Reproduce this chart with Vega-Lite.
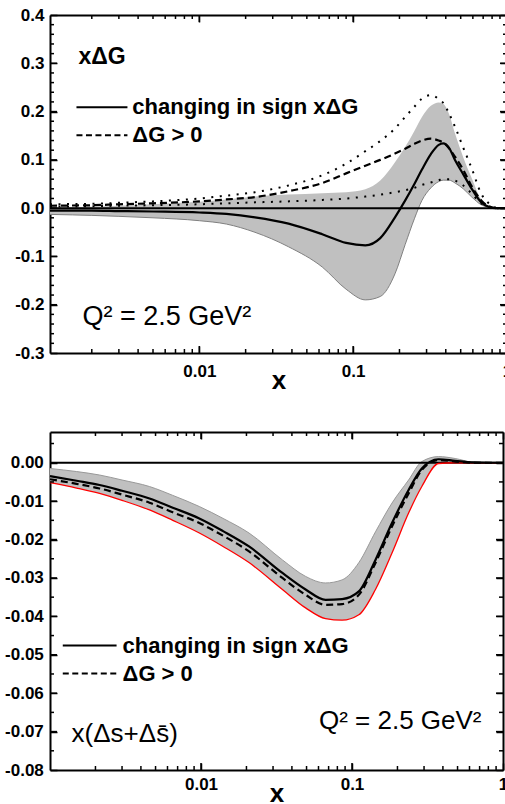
{
  "$schema": "https://vega.github.io/schema/vega-lite/v6.json",
  "padding": {"left": 4, "top": 6, "right": 0, "bottom": 0},
  "columns": 1,
  "align": "none",
  "spacing": 38,
  "background": "white",
  "datasets": {
    "top": [
      {"x": 0.00107, "lo": -0.013, "hi": 0.002, "s": -0.005, "d": 0.005, "du": 0.008, "dl": 0.003},
      {"x": 0.0015, "lo": -0.014, "hi": 0.0025, "s": -0.005, "d": 0.0055, "du": 0.0085, "dl": 0.0035},
      {"x": 0.002, "lo": -0.015, "hi": 0.003, "s": -0.005, "d": 0.006, "du": 0.009, "dl": 0.004},
      {"x": 0.003, "lo": -0.017, "hi": 0.005, "s": -0.006, "d": 0.008, "du": 0.011, "dl": 0.005},
      {"x": 0.005, "lo": -0.02, "hi": 0.008, "s": -0.007, "d": 0.01, "du": 0.014, "dl": 0.006},
      {"x": 0.01, "lo": -0.026, "hi": 0.013, "s": -0.009, "d": 0.014, "du": 0.02, "dl": 0.008},
      {"x": 0.015, "lo": -0.033, "hi": 0.018, "s": -0.012, "d": 0.018, "du": 0.026, "dl": 0.01},
      {"x": 0.023, "lo": -0.05, "hi": 0.024, "s": -0.019, "d": 0.023, "du": 0.033, "dl": 0.012},
      {"x": 0.038, "lo": -0.08, "hi": 0.028, "s": -0.032, "d": 0.035, "du": 0.047, "dl": 0.014},
      {"x": 0.063, "lo": -0.122, "hi": 0.031, "s": -0.054, "d": 0.052, "du": 0.068, "dl": 0.017},
      {"x": 0.09, "lo": -0.168, "hi": 0.033, "s": -0.072, "d": 0.072, "du": 0.092, "dl": 0.02},
      {"x": 0.12, "lo": -0.19, "hi": 0.039, "s": -0.077, "d": 0.088, "du": 0.118, "dl": 0.024},
      {"x": 0.15, "lo": -0.183, "hi": 0.057, "s": -0.062, "d": 0.1, "du": 0.139, "dl": 0.028},
      {"x": 0.187, "lo": -0.136, "hi": 0.095, "s": -0.019, "d": 0.113, "du": 0.165, "dl": 0.033},
      {"x": 0.218, "lo": -0.075, "hi": 0.127, "s": 0.016, "d": 0.123, "du": 0.189, "dl": 0.037},
      {"x": 0.25, "lo": -0.022, "hi": 0.16, "s": 0.05, "d": 0.133, "du": 0.21, "dl": 0.042},
      {"x": 0.28, "lo": 0.016, "hi": 0.189, "s": 0.08, "d": 0.14, "du": 0.227, "dl": 0.048},
      {"x": 0.32, "lo": 0.042, "hi": 0.212, "s": 0.112, "d": 0.144, "du": 0.234, "dl": 0.053},
      {"x": 0.36, "lo": 0.055, "hi": 0.219, "s": 0.131, "d": 0.14, "du": 0.226, "dl": 0.058},
      {"x": 0.385, "lo": 0.058, "hi": 0.216, "s": 0.134, "d": 0.136, "du": 0.218, "dl": 0.06},
      {"x": 0.42, "lo": 0.058, "hi": 0.195, "s": 0.125, "d": 0.124, "du": 0.196, "dl": 0.06},
      {"x": 0.46, "lo": 0.052, "hi": 0.154, "s": 0.099, "d": 0.106, "du": 0.168, "dl": 0.057},
      {"x": 0.52, "lo": 0.04, "hi": 0.105, "s": 0.07, "d": 0.079, "du": 0.125, "dl": 0.047},
      {"x": 0.59, "lo": 0.023, "hi": 0.062, "s": 0.04, "d": 0.045, "du": 0.082, "dl": 0.03},
      {"x": 0.68, "lo": 0.007, "hi": 0.018, "s": 0.012, "d": 0.016, "du": 0.03, "dl": 0.01},
      {"x": 0.76, "lo": 0.002, "hi": 0.004, "s": 0.003, "d": 0.004, "du": 0.01, "dl": 0.003},
      {"x": 0.85, "lo": 0, "hi": 0.0005, "s": 0, "d": 0, "du": 0.001, "dl": 0},
      {"x": 1, "lo": 0, "hi": 0, "s": 0, "d": 0, "du": 0, "dl": 0}
    ],
    "bot": [
      {"x": 0.001, "lo": -0.0052, "hi": -0.0015, "s": -0.0035, "d": -0.0043},
      {"x": 0.0015, "lo": -0.0066, "hi": -0.0023, "s": -0.0047, "d": -0.0055},
      {"x": 0.00213, "lo": -0.008, "hi": -0.0032, "s": -0.0058, "d": -0.0067},
      {"x": 0.003, "lo": -0.0098, "hi": -0.0045, "s": -0.0073, "d": -0.0083},
      {"x": 0.00456, "lo": -0.0123, "hi": -0.0062, "s": -0.0093, "d": -0.0104},
      {"x": 0.0065, "lo": -0.015, "hi": -0.0085, "s": -0.0117, "d": -0.0129},
      {"x": 0.00975, "lo": -0.0183, "hi": -0.0114, "s": -0.0145, "d": -0.0157},
      {"x": 0.014, "lo": -0.0218, "hi": -0.0145, "s": -0.0178, "d": -0.019},
      {"x": 0.0208, "lo": -0.026, "hi": -0.0183, "s": -0.0218, "d": -0.0231},
      {"x": 0.0346, "lo": -0.033, "hi": -0.0253, "s": -0.0287, "d": -0.03},
      {"x": 0.0493, "lo": -0.0378, "hi": -0.0296, "s": -0.033, "d": -0.0344},
      {"x": 0.0668, "lo": -0.0406, "hi": -0.0313, "s": -0.0357, "d": -0.037},
      {"x": 0.086, "lo": -0.041, "hi": -0.0305, "s": -0.0355, "d": -0.0368},
      {"x": 0.111, "lo": -0.0396, "hi": -0.026, "s": -0.0335, "d": -0.0344},
      {"x": 0.143, "lo": -0.033, "hi": -0.018, "s": -0.0253, "d": -0.0261},
      {"x": 0.184, "lo": -0.0235, "hi": -0.0105, "s": -0.0157, "d": -0.0166},
      {"x": 0.237, "lo": -0.0131, "hi": -0.0045, "s": -0.0071, "d": -0.008},
      {"x": 0.29, "lo": -0.0062, "hi": 0.0003, "s": -0.0015, "d": -0.0019},
      {"x": 0.374, "lo": -0.0002, "hi": 0.0016, "s": 0.0009, "d": 0.0007},
      {"x": 0.482, "lo": 0, "hi": 0.0011, "s": 0.0005, "d": 0.0003},
      {"x": 0.62, "lo": 0, "hi": 0.0002, "s": 0.0001, "d": 0},
      {"x": 0.84, "lo": 0, "hi": 0, "s": 0, "d": 0},
      {"x": 1, "lo": 0, "hi": 0, "s": 0, "d": 0}
    ],
    "xmaj": [{"v": 0.01}, {"v": 0.1}],
    "xmin": [{"v": 0.002}, {"v": 0.003}, {"v": 0.004}, {"v": 0.005}, {"v": 0.006}, {"v": 0.007}, {"v": 0.008}, {"v": 0.009}, {"v": 0.02}, {"v": 0.03}, {"v": 0.04}, {"v": 0.05}, {"v": 0.06}, {"v": 0.07}, {"v": 0.08}, {"v": 0.09}, {"v": 0.2}, {"v": 0.3}, {"v": 0.4}, {"v": 0.5}, {"v": 0.6}, {"v": 0.7}, {"v": 0.8}, {"v": 0.9}],
    "tymaj": [{"v": -0.2}, {"v": -0.1}, {"v": 0}, {"v": 0.1}, {"v": 0.2}, {"v": 0.3}],
    "tymin": [{"v": -0.28}, {"v": -0.26}, {"v": -0.24}, {"v": -0.22}, {"v": -0.18}, {"v": -0.16}, {"v": -0.14}, {"v": -0.12}, {"v": -0.08}, {"v": -0.06}, {"v": -0.04}, {"v": -0.02}, {"v": 0.02}, {"v": 0.04}, {"v": 0.06}, {"v": 0.08}, {"v": 0.12}, {"v": 0.14}, {"v": 0.16}, {"v": 0.18}, {"v": 0.22}, {"v": 0.24}, {"v": 0.26}, {"v": 0.28}, {"v": 0.32}, {"v": 0.34}, {"v": 0.36}, {"v": 0.38}],
    "bymaj": [{"v": -0.07}, {"v": -0.06}, {"v": -0.05}, {"v": -0.04}, {"v": -0.03}, {"v": -0.02}, {"v": -0.01}, {"v": 0}],
    "bymin": [{"v": -0.075}, {"v": -0.065}, {"v": -0.055}, {"v": -0.045}, {"v": -0.035}, {"v": -0.025}, {"v": -0.015}, {"v": -0.005}, {"v": 0.005}]
  },
  "concat": [
    {
      "width": 457,
      "height": 338,
      "data": {"name": "top"},
      "resolve": {"axis": {"x": "independent", "y": "independent"}},
      "layer": [
        {
          "mark": {"type": "area", "color": "#c0c0c0", "interpolate": "monotone"},
          "encoding": {
            "x": {"field": "x", "type": "quantitative", "scale": {"type": "log", "domain": [0.00107, 1], "nice": false},
              "axis": {"orient": "bottom", "values": [0.01, 0.1, 1], "format": "~g", "domain": true, "domainColor": "black", "domainWidth": 2, "tickColor": "black", "tickWidth": 1.5, "tickSize": -7, "labelPadding": 17, "labelFlush": false, "title": "x", "titlePadding": -12}},
            "y": {"field": "lo", "type": "quantitative", "scale": {"domain": [-0.3, 0.4], "nice": false, "zero": false},
              "axis": {"orient": "left", "values": [-0.3, -0.2, -0.1, 0, 0.1, 0.2, 0.3, 0.4], "format": ".1f", "labelExpr": "replace(datum.label, '\u2212', '-')", "domain": true, "domainColor": "black", "domainWidth": 2, "tickColor": "black", "tickWidth": 1.5, "tickSize": -7, "labelPadding": 13, "title": " ", "titleFontSize": 2, "titlePadding": 3}},
            "y2": {"field": "hi"}
          }
        },
        {
          "mark": {"type": "line", "color": "#808080", "strokeWidth": 1, "interpolate": "monotone"},
          "encoding": {
            "x": {"field": "x", "type": "quantitative", "scale": {"type": "log", "domain": [0.00107, 1], "nice": false}, "axis": null},
            "y": {"field": "lo", "type": "quantitative", "scale": {"domain": [-0.3, 0.4], "nice": false, "zero": false}, "axis": null}
          }
        },
        {
          "data": {"values": [{"z": 0}]},
          "mark": {"type": "rule", "color": "black", "strokeWidth": 2},
          "encoding": {
            "y": {"field": "z", "type": "quantitative", "scale": {"domain": [-0.3, 0.4], "nice": false, "zero": false}, "axis": null}
          }
        },
        {
          "mark": {"type": "line", "color": "black", "strokeWidth": 2, "strokeDash": [2, 6.5], "interpolate": "monotone"},
          "encoding": {
            "x": {"field": "x", "type": "quantitative", "scale": {"type": "log", "domain": [0.00107, 1], "nice": false}, "axis": null},
            "y": {"field": "du", "type": "quantitative", "scale": {"domain": [-0.3, 0.4], "nice": false, "zero": false}, "axis": null}
          }
        },
        {
          "mark": {"type": "line", "color": "black", "strokeWidth": 2, "strokeDash": [2, 6.5], "interpolate": "monotone"},
          "encoding": {
            "x": {"field": "x", "type": "quantitative", "scale": {"type": "log", "domain": [0.00107, 1], "nice": false},
              "axis": {"orient": "top", "values": [0.01, 0.1, 1], "domain": true, "domainColor": "black", "domainWidth": 2, "tickColor": "black", "tickWidth": 1.5, "tickSize": -7, "labels": false, "title": null}},
            "y": {"field": "dl", "type": "quantitative", "scale": {"domain": [-0.3, 0.4], "nice": false, "zero": false},
              "axis": {"orient": "right", "values": [-0.3, -0.2, -0.1, 0, 0.1, 0.2, 0.3, 0.4], "domain": true, "domainColor": "black", "domainWidth": 2, "tickColor": "black", "tickWidth": 1.5, "tickSize": -7, "labels": false, "title": null}}
          }
        },
        {
          "mark": {"type": "line", "color": "black", "strokeWidth": 2.2, "strokeDash": [7, 4], "interpolate": "monotone"},
          "encoding": {
            "x": {"field": "x", "type": "quantitative", "scale": {"type": "log", "domain": [0.00107, 1], "nice": false}, "axis": null},
            "y": {"field": "d", "type": "quantitative", "scale": {"domain": [-0.3, 0.4], "nice": false, "zero": false}, "axis": null}
          }
        },
        {
          "mark": {"type": "line", "color": "black", "strokeWidth": 2.2, "interpolate": "monotone"},
          "encoding": {
            "x": {"field": "x", "type": "quantitative", "scale": {"type": "log", "domain": [0.00107, 1], "nice": false}, "axis": null},
            "y": {"field": "s", "type": "quantitative", "scale": {"domain": [-0.3, 0.4], "nice": false, "zero": false}, "axis": null}
          }
        },
        {
          "data": {"name": "xmaj"},
          "mark": {"type": "rule", "color": "black", "strokeWidth": 1.5},
          "encoding": {
            "x": {"field": "v", "type": "quantitative", "scale": {"type": "log", "domain": [0.00107, 1], "nice": false}, "axis": null},
            "y": {"datum": -0.3, "type": "quantitative", "scale": {"domain": [-0.3, 0.4], "nice": false, "zero": false}, "axis": null},
            "y2": {"datum": -0.2855}
          }
        },
        {
          "data": {"name": "xmaj"},
          "mark": {"type": "rule", "color": "black", "strokeWidth": 1.5},
          "encoding": {
            "x": {"field": "v", "type": "quantitative", "scale": {"type": "log", "domain": [0.00107, 1], "nice": false}, "axis": null},
            "y": {"datum": 0.4, "type": "quantitative", "scale": {"domain": [-0.3, 0.4], "nice": false, "zero": false}, "axis": null},
            "y2": {"datum": 0.3855}
          }
        },
        {
          "data": {"name": "xmin"},
          "mark": {"type": "rule", "color": "black", "strokeWidth": 1.5},
          "encoding": {
            "x": {"field": "v", "type": "quantitative", "scale": {"type": "log", "domain": [0.00107, 1], "nice": false}, "axis": null},
            "y": {"datum": -0.3, "type": "quantitative", "scale": {"domain": [-0.3, 0.4], "nice": false, "zero": false}, "axis": null},
            "y2": {"datum": -0.2917}
          }
        },
        {
          "data": {"name": "xmin"},
          "mark": {"type": "rule", "color": "black", "strokeWidth": 1.5},
          "encoding": {
            "x": {"field": "v", "type": "quantitative", "scale": {"type": "log", "domain": [0.00107, 1], "nice": false}, "axis": null},
            "y": {"datum": 0.4, "type": "quantitative", "scale": {"domain": [-0.3, 0.4], "nice": false, "zero": false}, "axis": null},
            "y2": {"datum": 0.3917}
          }
        },
        {
          "data": {"name": "tymaj"},
          "mark": {"type": "rule", "color": "black", "strokeWidth": 1.5},
          "encoding": {
            "y": {"field": "v", "type": "quantitative", "scale": {"domain": [-0.3, 0.4], "nice": false, "zero": false}, "axis": null},
            "x": {"datum": 0.00107, "type": "quantitative", "scale": {"type": "log", "domain": [0.00107, 1], "nice": false}, "axis": null},
            "x2": {"datum": 0.001188}
          }
        },
        {
          "data": {"name": "tymaj"},
          "mark": {"type": "rule", "color": "black", "strokeWidth": 1.5},
          "encoding": {
            "y": {"field": "v", "type": "quantitative", "scale": {"domain": [-0.3, 0.4], "nice": false, "zero": false}, "axis": null},
            "x": {"datum": 1, "type": "quantitative", "scale": {"type": "log", "domain": [0.00107, 1], "nice": false}, "axis": null},
            "x2": {"datum": 0.9004}
          }
        },
        {
          "data": {"name": "tymin"},
          "mark": {"type": "rule", "color": "black", "strokeWidth": 1.5},
          "encoding": {
            "y": {"field": "v", "type": "quantitative", "scale": {"domain": [-0.3, 0.4], "nice": false, "zero": false}, "axis": null},
            "x": {"datum": 0.00107, "type": "quantitative", "scale": {"type": "log", "domain": [0.00107, 1], "nice": false}, "axis": null},
            "x2": {"datum": 0.001136}
          }
        },
        {
          "data": {"name": "tymin"},
          "mark": {"type": "rule", "color": "black", "strokeWidth": 1.5},
          "encoding": {
            "y": {"field": "v", "type": "quantitative", "scale": {"domain": [-0.3, 0.4], "nice": false, "zero": false}, "axis": null},
            "x": {"datum": 1, "type": "quantitative", "scale": {"type": "log", "domain": [0.00107, 1], "nice": false}, "axis": null},
            "x2": {"datum": 0.9419}
          }
        },
        {
          "data": {"values": [{"x": 0.00159, "x2": 0.00341, "y": 0.209}]},
          "mark": {"type": "rule", "color": "black", "strokeWidth": 2},
          "encoding": {
            "x": {"field": "x", "type": "quantitative", "scale": {"type": "log", "domain": [0.00107, 1], "nice": false}, "axis": null},
            "x2": {"field": "x2"},
            "y": {"field": "y", "type": "quantitative", "scale": {"domain": [-0.3, 0.4], "nice": false, "zero": false}, "axis": null}
          }
        },
        {
          "data": {"values": [{"x": 0.00159, "x2": 0.00341, "y": 0.151}]},
          "mark": {"type": "rule", "color": "black", "strokeWidth": 2, "strokeDash": [6, 3.5]},
          "encoding": {
            "x": {"field": "x", "type": "quantitative", "scale": {"type": "log", "domain": [0.00107, 1], "nice": false}, "axis": null},
            "x2": {"field": "x2"},
            "y": {"field": "y", "type": "quantitative", "scale": {"domain": [-0.3, 0.4], "nice": false, "zero": false}, "axis": null}
          }
        },
        {
          "data": {"values": [{"x": 0.00367, "y": 0.209, "label": "changing in sign xΔG"}, {"x": 0.00367, "y": 0.151, "label": "ΔG > 0"}]},
          "mark": {"type": "text", "align": "left", "baseline": "middle", "font": "Liberation Sans", "fontWeight": "bold", "fontSize": 22, "color": "black"},
          "encoding": {
            "x": {"field": "x", "type": "quantitative", "scale": {"type": "log", "domain": [0.00107, 1], "nice": false}, "axis": null},
            "y": {"field": "y", "type": "quantitative", "scale": {"domain": [-0.3, 0.4], "nice": false, "zero": false}, "axis": null},
            "text": {"field": "label"}
          }
        },
        {
          "data": {"values": [{"x": 0.00164, "y": 0.313, "label": "xΔG"}]},
          "mark": {"type": "text", "align": "left", "baseline": "middle", "font": "Liberation Sans", "fontWeight": "bold", "fontSize": 23, "color": "black"},
          "encoding": {
            "x": {"field": "x", "type": "quantitative", "scale": {"type": "log", "domain": [0.00107, 1], "nice": false}, "axis": null},
            "y": {"field": "y", "type": "quantitative", "scale": {"domain": [-0.3, 0.4], "nice": false, "zero": false}, "axis": null},
            "text": {"field": "label"}
          }
        },
        {
          "data": {"values": [{"x": 0.00174, "y": -0.225, "label": "Q² = 2.5 GeV²"}]},
          "mark": {"type": "text", "align": "left", "baseline": "middle", "font": "Liberation Sans", "fontWeight": "normal", "fontSize": 27, "color": "black"},
          "encoding": {
            "x": {"field": "x", "type": "quantitative", "scale": {"type": "log", "domain": [0.00107, 1], "nice": false}, "axis": null},
            "y": {"field": "y", "type": "quantitative", "scale": {"domain": [-0.3, 0.4], "nice": false, "zero": false}, "axis": null},
            "text": {"field": "label"}
          }
        }
      ]
    },
    {
      "width": 453,
      "height": 338,
      "data": {"name": "bot"},
      "resolve": {"axis": {"x": "independent", "y": "independent"}},
      "layer": [
        {
          "mark": {"type": "area", "color": "#c0c0c0", "interpolate": "monotone"},
          "encoding": {
            "x": {"field": "x", "type": "quantitative", "scale": {"type": "log", "domain": [0.001, 1], "nice": false},
              "axis": {"orient": "bottom", "values": [0.01, 0.1, 1], "format": "~g", "domain": true, "domainColor": "black", "domainWidth": 2, "tickColor": "black", "tickWidth": 1.5, "tickSize": -7, "labelPadding": 13.6, "labelFlush": false, "title": "x", "titlePadding": -12}},
            "y": {"field": "lo", "type": "quantitative", "scale": {"domain": [-0.08, 0.008], "nice": false, "zero": false},
              "axis": {"orient": "left", "values": [-0.08, -0.07, -0.06, -0.05, -0.04, -0.03, -0.02, -0.01, 0], "format": ".2f", "labelExpr": "replace(datum.label, '\u2212', '-')", "domain": true, "domainColor": "black", "domainWidth": 2, "tickColor": "black", "tickWidth": 1.5, "tickSize": -7, "labelPadding": 13.7, "title": null}},
            "y2": {"field": "hi"}
          }
        },
        {
          "mark": {"type": "line", "color": "#999999", "strokeWidth": 1, "interpolate": "monotone"},
          "encoding": {
            "x": {"field": "x", "type": "quantitative", "scale": {"type": "log", "domain": [0.001, 1], "nice": false}, "axis": null},
            "y": {"field": "hi", "type": "quantitative", "scale": {"domain": [-0.08, 0.008], "nice": false, "zero": false}, "axis": null}
          }
        },
        {
          "data": {"values": [{"z": 0}]},
          "mark": {"type": "rule", "color": "black", "strokeWidth": 2},
          "encoding": {
            "y": {"field": "z", "type": "quantitative", "scale": {"domain": [-0.08, 0.008], "nice": false, "zero": false}, "axis": null}
          }
        },
        {
          "mark": {"type": "line", "color": "#ff0000", "strokeWidth": 1.3, "interpolate": "monotone"},
          "encoding": {
            "x": {"field": "x", "type": "quantitative", "scale": {"type": "log", "domain": [0.001, 1], "nice": false}, "axis": null},
            "y": {"field": "lo", "type": "quantitative", "scale": {"domain": [-0.08, 0.008], "nice": false, "zero": false}, "axis": null}
          }
        },
        {
          "mark": {"type": "line", "color": "black", "strokeWidth": 2.2, "strokeDash": [7, 4], "interpolate": "monotone"},
          "encoding": {
            "x": {"field": "x", "type": "quantitative", "scale": {"type": "log", "domain": [0.001, 1], "nice": false},
              "axis": {"orient": "top", "values": [0.01, 0.1, 1], "domain": true, "domainColor": "black", "domainWidth": 2, "tickColor": "black", "tickWidth": 1.5, "tickSize": -7, "labels": false, "title": null}},
            "y": {"field": "d", "type": "quantitative", "scale": {"domain": [-0.08, 0.008], "nice": false, "zero": false},
              "axis": {"orient": "right", "values": [-0.08, -0.07, -0.06, -0.05, -0.04, -0.03, -0.02, -0.01, 0], "domain": true, "domainColor": "black", "domainWidth": 2, "tickColor": "black", "tickWidth": 1.5, "tickSize": -7, "labels": false, "title": null}}
          }
        },
        {
          "mark": {"type": "line", "color": "black", "strokeWidth": 2.2, "interpolate": "monotone"},
          "encoding": {
            "x": {"field": "x", "type": "quantitative", "scale": {"type": "log", "domain": [0.001, 1], "nice": false}, "axis": null},
            "y": {"field": "s", "type": "quantitative", "scale": {"domain": [-0.08, 0.008], "nice": false, "zero": false}, "axis": null}
          }
        },
        {
          "data": {"name": "xmaj"},
          "mark": {"type": "rule", "color": "black", "strokeWidth": 1.5},
          "encoding": {
            "x": {"field": "v", "type": "quantitative", "scale": {"type": "log", "domain": [0.001, 1], "nice": false}, "axis": null},
            "y": {"datum": -0.08, "type": "quantitative", "scale": {"domain": [-0.08, 0.008], "nice": false, "zero": false}, "axis": null},
            "y2": {"datum": -0.07818}
          }
        },
        {
          "data": {"name": "xmaj"},
          "mark": {"type": "rule", "color": "black", "strokeWidth": 1.5},
          "encoding": {
            "x": {"field": "v", "type": "quantitative", "scale": {"type": "log", "domain": [0.001, 1], "nice": false}, "axis": null},
            "y": {"datum": 0.008, "type": "quantitative", "scale": {"domain": [-0.08, 0.008], "nice": false, "zero": false}, "axis": null},
            "y2": {"datum": 0.00618}
          }
        },
        {
          "data": {"name": "xmin"},
          "mark": {"type": "rule", "color": "black", "strokeWidth": 1.5},
          "encoding": {
            "x": {"field": "v", "type": "quantitative", "scale": {"type": "log", "domain": [0.001, 1], "nice": false}, "axis": null},
            "y": {"datum": -0.08, "type": "quantitative", "scale": {"domain": [-0.08, 0.008], "nice": false, "zero": false}, "axis": null},
            "y2": {"datum": -0.07896}
          }
        },
        {
          "data": {"name": "xmin"},
          "mark": {"type": "rule", "color": "black", "strokeWidth": 1.5},
          "encoding": {
            "x": {"field": "v", "type": "quantitative", "scale": {"type": "log", "domain": [0.001, 1], "nice": false}, "axis": null},
            "y": {"datum": 0.008, "type": "quantitative", "scale": {"domain": [-0.08, 0.008], "nice": false, "zero": false}, "axis": null},
            "y2": {"datum": 0.00696}
          }
        },
        {
          "data": {"name": "bymaj"},
          "mark": {"type": "rule", "color": "black", "strokeWidth": 1.5},
          "encoding": {
            "y": {"field": "v", "type": "quantitative", "scale": {"domain": [-0.08, 0.008], "nice": false, "zero": false}, "axis": null},
            "x": {"datum": 0.001, "type": "quantitative", "scale": {"type": "log", "domain": [0.001, 1], "nice": false}, "axis": null},
            "x2": {"datum": 0.0011127}
          }
        },
        {
          "data": {"name": "bymaj"},
          "mark": {"type": "rule", "color": "black", "strokeWidth": 1.5},
          "encoding": {
            "y": {"field": "v", "type": "quantitative", "scale": {"domain": [-0.08, 0.008], "nice": false, "zero": false}, "axis": null},
            "x": {"datum": 1, "type": "quantitative", "scale": {"type": "log", "domain": [0.001, 1], "nice": false}, "axis": null},
            "x2": {"datum": 0.8987}
          }
        },
        {
          "data": {"name": "bymin"},
          "mark": {"type": "rule", "color": "black", "strokeWidth": 1.5},
          "encoding": {
            "y": {"field": "v", "type": "quantitative", "scale": {"domain": [-0.08, 0.008], "nice": false, "zero": false}, "axis": null},
            "x": {"datum": 0.001, "type": "quantitative", "scale": {"type": "log", "domain": [0.001, 1], "nice": false}, "axis": null},
            "x2": {"datum": 0.0010629}
          }
        },
        {
          "data": {"name": "bymin"},
          "mark": {"type": "rule", "color": "black", "strokeWidth": 1.5},
          "encoding": {
            "y": {"field": "v", "type": "quantitative", "scale": {"domain": [-0.08, 0.008], "nice": false, "zero": false}, "axis": null},
            "x": {"datum": 1, "type": "quantitative", "scale": {"type": "log", "domain": [0.001, 1], "nice": false}, "axis": null},
            "x2": {"datum": 0.9408}
          }
        },
        {
          "data": {"values": [{"x": 0.001215, "x2": 0.00276, "y": -0.0476}]},
          "mark": {"type": "rule", "color": "black", "strokeWidth": 2},
          "encoding": {
            "x": {"field": "x", "type": "quantitative", "scale": {"type": "log", "domain": [0.001, 1], "nice": false}, "axis": null},
            "x2": {"field": "x2"},
            "y": {"field": "y", "type": "quantitative", "scale": {"domain": [-0.08, 0.008], "nice": false, "zero": false}, "axis": null}
          }
        },
        {
          "data": {"values": [{"x": 0.001215, "x2": 0.00276, "y": -0.0549}]},
          "mark": {"type": "rule", "color": "black", "strokeWidth": 2, "strokeDash": [6, 3.5]},
          "encoding": {
            "x": {"field": "x", "type": "quantitative", "scale": {"type": "log", "domain": [0.001, 1], "nice": false}, "axis": null},
            "x2": {"field": "x2"},
            "y": {"field": "y", "type": "quantitative", "scale": {"domain": [-0.08, 0.008], "nice": false, "zero": false}, "axis": null}
          }
        },
        {
          "data": {"values": [{"x": 0.003024, "y": -0.0476, "label": "changing in sign xΔG"}, {"x": 0.003024, "y": -0.0549, "label": "ΔG > 0"}]},
          "mark": {"type": "text", "align": "left", "baseline": "middle", "font": "Liberation Sans", "fontWeight": "bold", "fontSize": 22, "color": "black"},
          "encoding": {
            "x": {"field": "x", "type": "quantitative", "scale": {"type": "log", "domain": [0.001, 1], "nice": false}, "axis": null},
            "y": {"field": "y", "type": "quantitative", "scale": {"domain": [-0.08, 0.008], "nice": false, "zero": false}, "axis": null},
            "text": {"field": "label"}
          }
        },
        {
          "data": {"values": [{"x": 0.00139, "y": -0.0707, "label": "x(Δs+Δs̄)"}, {"x": 0.0604, "y": -0.0673, "label": "Q² = 2.5 GeV²"}]},
          "mark": {"type": "text", "align": "left", "baseline": "middle", "font": "Liberation Sans", "fontWeight": "normal", "fontSize": 26, "color": "black"},
          "encoding": {
            "x": {"field": "x", "type": "quantitative", "scale": {"type": "log", "domain": [0.001, 1], "nice": false}, "axis": null},
            "y": {"field": "y", "type": "quantitative", "scale": {"domain": [-0.08, 0.008], "nice": false, "zero": false}, "axis": null},
            "text": {"field": "label"}
          }
        }
      ]
    }
  ],
  "config": {
    "view": {"stroke": null},
    "axis": {
      "grid": false,
      "labelFont": "Liberation Sans",
      "labelFontWeight": "bold",
      "labelFontSize": 17,
      "labelColor": "black",
      "titleFont": "Liberation Sans",
      "titleFontWeight": "bold",
      "titleFontSize": 26,
      "titleColor": "black"
    }
  }
}
